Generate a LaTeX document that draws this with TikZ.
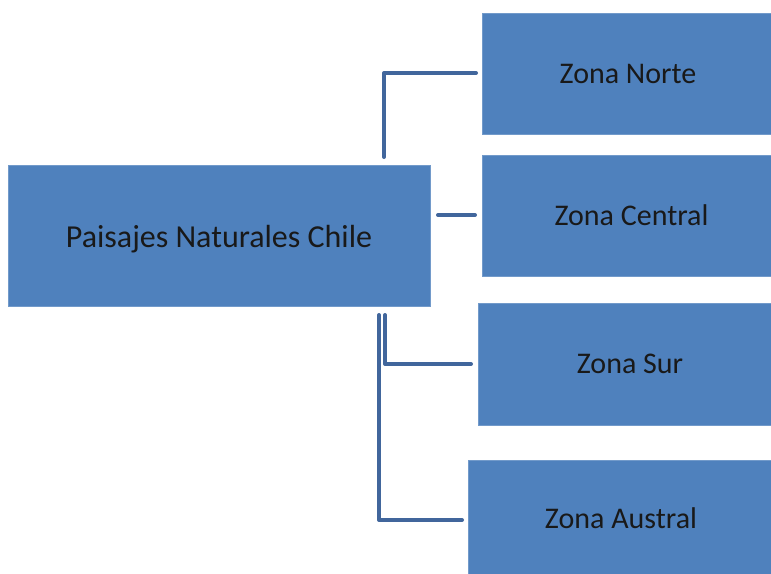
\documentclass[tikz,border=0pt]{standalone}
\usepackage{fontspec}
\setmainfont{Carlito}
\definecolor{boxblue}{HTML}{4F81BD}
\definecolor{linkblue}{HTML}{41669C}
\begin{document}
\begin{tikzpicture}[x=1pt,y=-1pt,
  zbox/.style={fill=boxblue,draw=boxblue!80!white,line width=0.6pt,inner sep=0pt,font=\fontsize{30}{36}\selectfont,text=black!90},
  rootbox/.style={zbox,font=\fontsize{32}{38}\selectfont},
  link/.style={draw=linkblue,line width=4pt,line cap=round,line join=round}]
\useasboundingbox (0,0) rectangle (771,573);
\node[rootbox,minimum width=422pt,minimum height=141pt] (root) at (219,235.5) {\raisebox{-4pt}[\height][\depth]{Paisajes Naturales Chile}};
\node[zbox,minimum width=292pt,minimum height=121pt] (norte) at (628,73.5) {Zona Norte};
\node[zbox,minimum width=292pt,minimum height=121pt] (central) at (628,215.5) {\hspace*{7pt}Zona Central};
\node[zbox,minimum width=296pt,minimum height=122pt] (sur) at (626,364) {\hspace*{8pt}Zona Sur};
\node[zbox,minimum width=306pt,minimum height=116pt] (austral) at (621,518) {Zona Austral};
\coordinate (nA) at (384,157);
\coordinate (nB) at (476,73);
\coordinate (cA) at (438,215);
\coordinate (cB) at (475,215);
\coordinate (sA) at (385,315);
\coordinate (sB) at (471,364);
\coordinate (aA) at (379,315);
\coordinate (aB) at (462,520);
\draw[link] (nA) |- (nB);
\draw[link] (cA) -- (cB);
\draw[link] (sA) |- (sB);
\draw[link] (aA) |- (aB);
\end{tikzpicture}
\end{document}
